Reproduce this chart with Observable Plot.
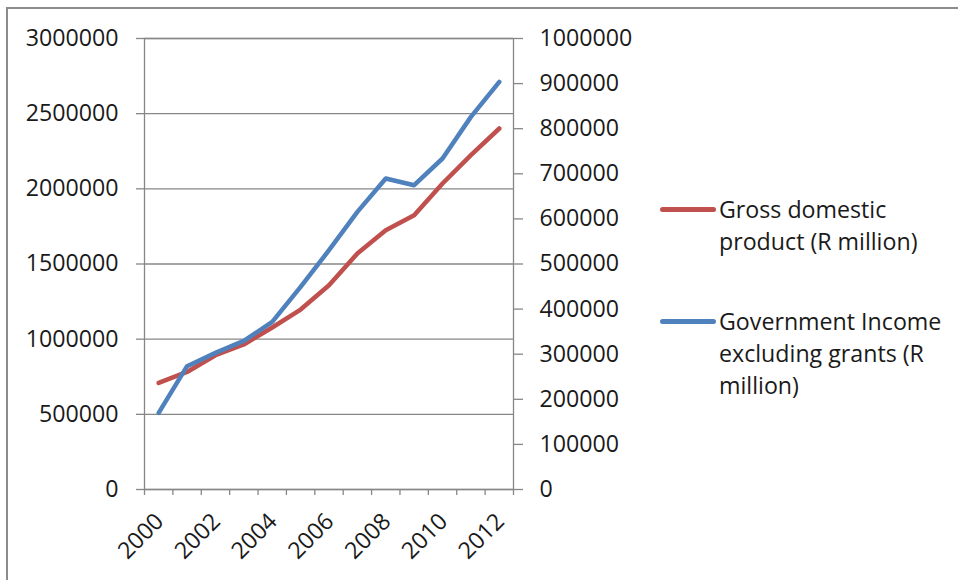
<!DOCTYPE html>
<html>
<head>
<meta charset="utf-8">
<script src="https://cdn.jsdelivr.net/npm/d3@7"></script>
<script src="https://cdn.jsdelivr.net/npm/@observablehq/plot@0.6"></script>
<style>
  html, body { margin: 0; padding: 0; background: #fff; overflow: hidden; }
  #wrap { position: relative; width: 958px; height: 580px; overflow: hidden; background: #fff; }
  #border { position: absolute; left: 6px; top: 7px; width: 1400px; height: 1400px;
            border: 2px solid #8c8c8c; box-sizing: border-box; }
  #chart { position: absolute; left: 0; top: 0; }
  .legend { position: absolute; left: 0; top: 0; font-family: "Open Sans", sans-serif;
            font-size: 23.2px; line-height: 32px; color: #1a1a1a; }
  .item { position: absolute; left: 660px; }
  .swatch { position: absolute; left: 0; width: 56px; height: 5px; border-radius: 3px; }
  .label { position: absolute; left: 59px; white-space: nowrap; }
</style>
</head>
<body>
<div id="wrap">
  <div id="border"></div>
  <div id="chart"></div>
  <div class="legend" id="legend"></div>
</div>
<script>
// Annual series, R million
const years = [2000, 2001, 2002, 2003, 2004, 2005, 2006, 2007, 2008, 2009, 2010, 2011, 2012];
const gdp = [709000, 782000, 893000, 964500, 1077600, 1197000, 1359000, 1570000, 1725000, 1824600, 2035500, 2223700, 2401300];
const govIncome = [170000, 273400, 302900, 329500, 371600, 449200, 530600, 615500, 689600, 674700, 733900, 826200, 903800];

// Axis ticks
const leftTicks = [0, 500000, 1000000, 1500000, 2000000, 2500000, 3000000];
const rightTicks = [0, 100000, 200000, 300000, 400000, 500000, 600000, 700000, 800000, 900000, 1000000];
const labelYears = [2000, 2002, 2004, 2006, 2008, 2010, 2012];

const seriesNames = ["Gross domestic\nproduct (R million)", "Government Income\nexcluding grants (R\nmillion)"];
const seriesColors = ["#C0504D", "#4F81BD"];

// Right axis (0–1,000,000) is drawn on the left scale (0–3,000,000)
const ratio = 3000000 / 1000000;

const rows = years.map((year, i) => ({year, gdp: gdp[i], gov: govIncome[i] * ratio}));
const bounds = d3.range(years.length + 1).map(i => years[0] - 0.5 + i);
const grey = "#878787";

const chart = Plot.plot({
  width: 958,
  height: 580,
  marginLeft: 144,
  marginRight: 445,
  marginTop: 38,
  marginBottom: 91,
  x: {domain: [years[0] - 0.5, years[years.length - 1] + 0.5]},
  y: {domain: [0, 3000000]},
  style: {fontFamily: "Open Sans, sans-serif", fontSize: "23.2px", color: "#1a1a1a", background: "transparent"},
  marks: [
    Plot.ruleY(leftTicks, {stroke: grey, strokeWidth: 1.3}),
    Plot.frame({stroke: grey, strokeWidth: 1.3}),
    Plot.axisY({ticks: leftTicks, tickSize: 8, tickPadding: 18, tickFormat: d3.format("d"), stroke: grey, strokeWidth: 1.3, label: null}),
    Plot.axisY({anchor: "right", ticks: rightTicks.map(v => v * ratio), tickSize: 9, tickPadding: 17,
                tickFormat: d => String(Math.round(d / ratio)), stroke: grey, strokeWidth: 1.3, label: null}),
    Plot.axisX({ticks: bounds, tickSize: 6, tickFormat: () => "", stroke: grey, strokeWidth: 1.3, label: null}),
    Plot.axisX({ticks: labelYears, tickSize: 0, tickPadding: 28, tickRotate: -45, dx: 1,
                tickFormat: d => String(d), label: null}),
    Plot.lineY(rows, {x: "year", y: "gdp", stroke: seriesColors[0], strokeWidth: 4.5,
                      strokeLinecap: "round", strokeLinejoin: "round"}),
    Plot.lineY(rows, {x: "year", y: "gov", stroke: seriesColors[1], strokeWidth: 4.5,
                      strokeLinecap: "round", strokeLinejoin: "round"})
  ]
});
document.getElementById("chart").appendChild(chart);

// Legend
const legend = document.getElementById("legend");
const legendTops = [193, 305];
seriesNames.forEach((name, i) => {
  const item = document.createElement("div");
  item.className = "item";
  item.style.top = legendTops[i] + "px";
  const sw = document.createElement("div");
  sw.className = "swatch";
  sw.style.background = seriesColors[i];
  sw.style.top = "14px";
  const lab = document.createElement("div");
  lab.className = "label";
  lab.innerHTML = name.split("\n").join("<br>");
  item.appendChild(sw);
  item.appendChild(lab);
  legend.appendChild(item);
});
</script>
</body>
</html>
